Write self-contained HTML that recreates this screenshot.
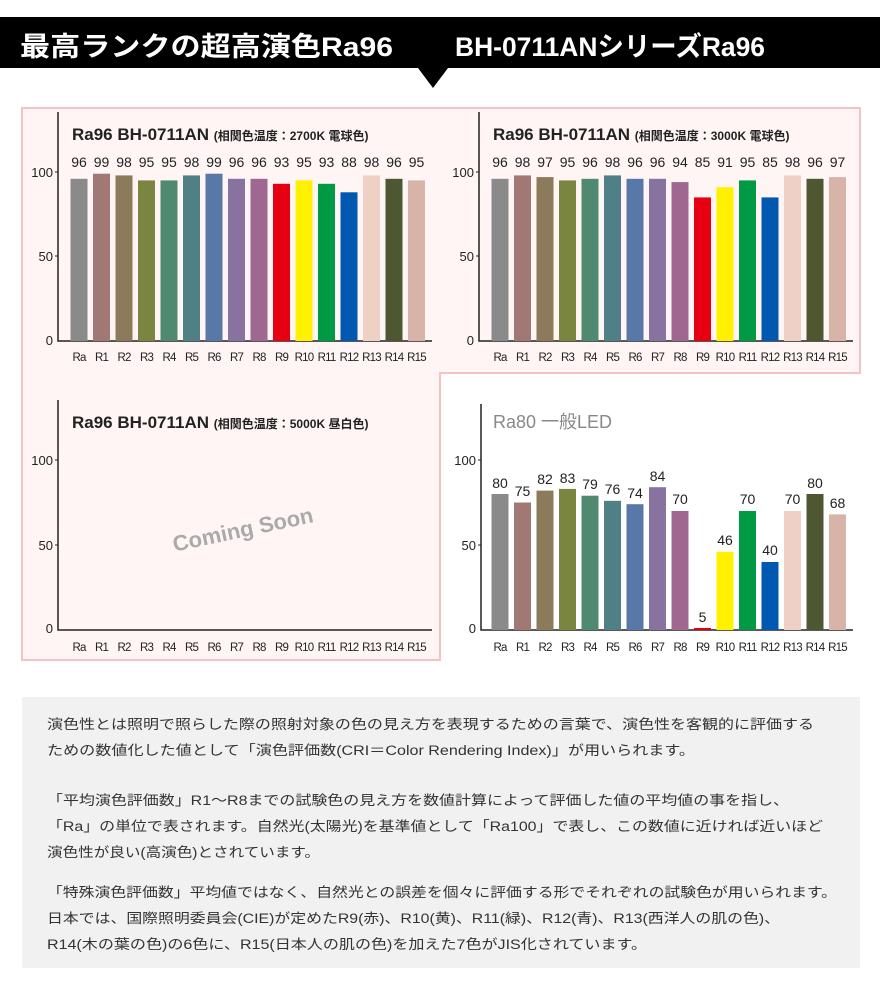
<!DOCTYPE html>
<html><head><meta charset="utf-8"><style>
body{margin:0;background:#fff;}
svg{display:block;font-family:"Liberation Sans","Noto Sans CJK JP",sans-serif;}
.c0{fill:#8a8a8a}.c1{fill:#a27875}.c2{fill:#8c7b5a}.c3{fill:#7a8540}.c4{fill:#4f8a70}.c5{fill:#4f8085}.c6{fill:#5878a8}.c7{fill:#8872a0}.c8{fill:#a06890}.c9{fill:#e60012}.c10{fill:#fff100}.c11{fill:#009944}.c12{fill:#0058b0}.c13{fill:#efd0c4}.c14{fill:#4e5632}.c15{fill:#d8b4a8}
.v{font-size:14px;fill:#222;text-anchor:middle}
.x{font-size:11.5px;fill:#222;text-anchor:middle;letter-spacing:-0.8px}
.t{font-size:13px;fill:#222;text-anchor:end}
.p{font-size:13.5px;fill:#333}
</style></head><body>
<svg width="880" height="1000" viewBox="0 0 880 1000">
<rect x="0" y="17" width="880" height="51" fill="#000"/>
<polygon points="418,68 448,68 433,88" fill="#000"/>
<text x="20" y="56" font-size="27" font-weight="bold" fill="#fff" textLength="373" lengthAdjust="spacingAndGlyphs">最高ランクの超高演色Ra96</text>
<text x="455" y="56" font-size="27" font-weight="bold" fill="#fff" textLength="310" lengthAdjust="spacingAndGlyphs">BH-0711ANシリーズRa96</text>

<path d="M22,108 H860 V373 H440 V660 H22 Z" fill="#fff5f5" stroke="#f4c4c4" stroke-width="2"/>

<!-- Chart 1 -->
<g>
<path d="M58,112 V341 H432" fill="none" stroke="#222" stroke-width="1.5"/>
<path d="M55,172 H58 M55,256 H58" stroke="#222"/>
<text class="t" x="53" y="177">100</text><text class="t" x="53" y="261">50</text><text class="t" x="53" y="345">0</text>
<text x="72" y="140" font-size="17" font-weight="bold" fill="#222">Ra96 BH-0711AN <tspan font-size="12">(相関色温度：2700K 電球色)</tspan></text>
<rect class="c0" x="70.5" y="178.8" width="17" height="162.2"/><rect class="c1" x="93" y="173.7" width="17" height="167.3"/><rect class="c2" x="115.5" y="175.4" width="17" height="165.6"/><rect class="c3" x="138" y="180.4" width="17" height="160.6"/><rect class="c4" x="160.5" y="180.4" width="17" height="160.6"/><rect class="c5" x="183" y="175.4" width="17" height="165.6"/><rect class="c6" x="205.5" y="173.7" width="17" height="167.3"/><rect class="c7" x="228" y="178.8" width="17" height="162.2"/><rect class="c8" x="250.5" y="178.8" width="17" height="162.2"/><rect class="c9" x="273" y="183.8" width="17" height="157.2"/><rect class="c10" x="295.5" y="180.4" width="17" height="160.6"/><rect class="c11" x="318" y="183.8" width="17" height="157.2"/><rect class="c12" x="340.5" y="192.3" width="17" height="148.7"/><rect class="c13" x="363" y="175.4" width="17" height="165.6"/><rect class="c14" x="385.5" y="178.8" width="17" height="162.2"/><rect class="c15" x="408" y="180.4" width="17" height="160.6"/>
<text class="v" y="167"><tspan x="79">96</tspan><tspan x="101.5">99</tspan><tspan x="124">98</tspan><tspan x="146.5">95</tspan><tspan x="169">95</tspan><tspan x="191.5">98</tspan><tspan x="214">99</tspan><tspan x="236.5">96</tspan><tspan x="259">96</tspan><tspan x="281.5">93</tspan><tspan x="304">95</tspan><tspan x="326.5">93</tspan><tspan x="349">88</tspan><tspan x="371.5">98</tspan><tspan x="394">96</tspan><tspan x="416.5">95</tspan></text>
<text class="x" y="361"><tspan x="79">Ra</tspan><tspan x="101.5">R1</tspan><tspan x="124">R2</tspan><tspan x="146.5">R3</tspan><tspan x="169">R4</tspan><tspan x="191.5">R5</tspan><tspan x="214">R6</tspan><tspan x="236.5">R7</tspan><tspan x="259">R8</tspan><tspan x="281.5">R9</tspan><tspan x="304">R10</tspan><tspan x="326.5">R11</tspan><tspan x="349">R12</tspan><tspan x="371.5">R13</tspan><tspan x="394">R14</tspan><tspan x="416.5">R15</tspan></text>
</g>

<!-- Chart 2 -->
<g transform="translate(421,0)">
<path d="M58,112 V341 H432" fill="none" stroke="#222" stroke-width="1.5"/>
<path d="M55,172 H58 M55,256 H58" stroke="#222"/>
<text class="t" x="53" y="177">100</text><text class="t" x="53" y="261">50</text><text class="t" x="53" y="345">0</text>
<text x="72" y="140" font-size="17" font-weight="bold" fill="#222">Ra96 BH-0711AN <tspan font-size="12">(相関色温度：3000K 電球色)</tspan></text>
<rect class="c0" x="70.5" y="178.8" width="17" height="162.2"/><rect class="c1" x="93" y="175.4" width="17" height="165.6"/><rect class="c2" x="115.5" y="177.1" width="17" height="163.9"/><rect class="c3" x="138" y="180.4" width="17" height="160.6"/><rect class="c4" x="160.5" y="178.8" width="17" height="162.2"/><rect class="c5" x="183" y="175.4" width="17" height="165.6"/><rect class="c6" x="205.5" y="178.8" width="17" height="162.2"/><rect class="c7" x="228" y="178.8" width="17" height="162.2"/><rect class="c8" x="250.5" y="182.1" width="17" height="158.9"/><rect class="c9" x="273" y="197.4" width="17" height="143.6"/><rect class="c10" x="295.5" y="187.2" width="17" height="153.8"/><rect class="c11" x="318" y="180.4" width="17" height="160.6"/><rect class="c12" x="340.5" y="197.4" width="17" height="143.6"/><rect class="c13" x="363" y="175.4" width="17" height="165.6"/><rect class="c14" x="385.5" y="178.8" width="17" height="162.2"/><rect class="c15" x="408" y="177.1" width="17" height="163.9"/>
<text class="v" y="167"><tspan x="79">96</tspan><tspan x="101.5">98</tspan><tspan x="124">97</tspan><tspan x="146.5">95</tspan><tspan x="169">96</tspan><tspan x="191.5">98</tspan><tspan x="214">96</tspan><tspan x="236.5">96</tspan><tspan x="259">94</tspan><tspan x="281.5">85</tspan><tspan x="304">91</tspan><tspan x="326.5">95</tspan><tspan x="349">85</tspan><tspan x="371.5">98</tspan><tspan x="394">96</tspan><tspan x="416.5">97</tspan></text>
<text class="x" y="361"><tspan x="79">Ra</tspan><tspan x="101.5">R1</tspan><tspan x="124">R2</tspan><tspan x="146.5">R3</tspan><tspan x="169">R4</tspan><tspan x="191.5">R5</tspan><tspan x="214">R6</tspan><tspan x="236.5">R7</tspan><tspan x="259">R8</tspan><tspan x="281.5">R9</tspan><tspan x="304">R10</tspan><tspan x="326.5">R11</tspan><tspan x="349">R12</tspan><tspan x="371.5">R13</tspan><tspan x="394">R14</tspan><tspan x="416.5">R15</tspan></text>
</g>

<!-- Chart 3 -->
<g>
<path d="M58,400 V630 H432" fill="none" stroke="#222" stroke-width="1.5"/>
<path d="M55,460 H58 M55,545 H58" stroke="#222"/>
<text class="t" x="53" y="465">100</text><text class="t" x="53" y="550">50</text><text class="t" x="53" y="633">0</text>
<text x="72" y="428" font-size="17" font-weight="bold" fill="#222">Ra96 BH-0711AN <tspan font-size="12">(相関色温度：5000K 昼白色)</tspan></text>
<text x="243" y="537" font-size="22" font-weight="bold" fill="#aaa" text-anchor="middle" transform="rotate(-12 243 530)">Coming Soon</text>
<text class="x" y="651"><tspan x="79">Ra</tspan><tspan x="101.5">R1</tspan><tspan x="124">R2</tspan><tspan x="146.5">R3</tspan><tspan x="169">R4</tspan><tspan x="191.5">R5</tspan><tspan x="214">R6</tspan><tspan x="236.5">R7</tspan><tspan x="259">R8</tspan><tspan x="281.5">R9</tspan><tspan x="304">R10</tspan><tspan x="326.5">R11</tspan><tspan x="349">R12</tspan><tspan x="371.5">R13</tspan><tspan x="394">R14</tspan><tspan x="416.5">R15</tspan></text>
</g>

<!-- Chart 4 -->
<g transform="translate(421,0)">
<path d="M60,404 V630 H432" fill="none" stroke="#222" stroke-width="1.5"/>
<path d="M57,460 H60 M57,545 H60" stroke="#222"/>
<text class="t" x="55" y="465">100</text><text class="t" x="55" y="550">50</text><text class="t" x="55" y="633">0</text>
<text x="72" y="428" font-size="18" fill="#888">Ra80 一般LED</text>
<rect class="c0" x="70.5" y="494" width="17" height="136"/><rect class="c1" x="93" y="502.5" width="17" height="127.5"/><rect class="c2" x="115.5" y="490.6" width="17" height="139.4"/><rect class="c3" x="138" y="488.9" width="17" height="141.1"/><rect class="c4" x="160.5" y="495.7" width="17" height="134.3"/><rect class="c5" x="183" y="500.8" width="17" height="129.2"/><rect class="c6" x="205.5" y="504.2" width="17" height="125.8"/><rect class="c7" x="228" y="487.2" width="17" height="142.8"/><rect class="c8" x="250.5" y="511" width="17" height="119"/><rect class="c9" x="273" y="628" width="17" height="2"/><rect class="c10" x="295.5" y="551.8" width="17" height="78.2"/><rect class="c11" x="318" y="511" width="17" height="119"/><rect class="c12" x="340.5" y="562" width="17" height="68"/><rect class="c13" x="363" y="511" width="17" height="119"/><rect class="c14" x="385.5" y="494" width="17" height="136"/><rect class="c15" x="408" y="514.4" width="17" height="115.6"/>
<g class="v"><text x="79" y="488">80</text><text x="101.5" y="496">75</text><text x="124" y="484">82</text><text x="146.5" y="483">83</text><text x="169" y="489">79</text><text x="191.5" y="494">76</text><text x="214" y="498">74</text><text x="236.5" y="481">84</text><text x="259" y="504">70</text><text x="281.5" y="622">5</text><text x="304" y="545">46</text><text x="326.5" y="504">70</text><text x="349" y="555">40</text><text x="371.5" y="504">70</text><text x="394" y="488">80</text><text x="416.5" y="508">68</text></g>
<text class="x" y="651"><tspan x="79">Ra</tspan><tspan x="101.5">R1</tspan><tspan x="124">R2</tspan><tspan x="146.5">R3</tspan><tspan x="169">R4</tspan><tspan x="191.5">R5</tspan><tspan x="214">R6</tspan><tspan x="236.5">R7</tspan><tspan x="259">R8</tspan><tspan x="281.5">R9</tspan><tspan x="304">R10</tspan><tspan x="326.5">R11</tspan><tspan x="349">R12</tspan><tspan x="371.5">R13</tspan><tspan x="394">R14</tspan><tspan x="416.5">R15</tspan></text>
</g>

<!-- Text box -->
<rect x="22" y="697" width="838" height="271" fill="#f1f1f1"/>
<g class="p">
<text x="47" y="729" textLength="767" lengthAdjust="spacingAndGlyphs">演色性とは照明で照らした際の照射対象の色の見え方を表現するための言葉で、演色性を客観的に評価する</text>
<text x="47" y="755" textLength="648" lengthAdjust="spacingAndGlyphs">ための数値化した値として「演色評価数(CRI＝Color Rendering Index)」が用いられます。</text>
<text x="47" y="805" textLength="742" lengthAdjust="spacingAndGlyphs">「平均演色評価数」R1～R8までの試験色の見え方を数値計算によって評価した値の平均値の事を指し、</text>
<text x="47" y="831" textLength="776" lengthAdjust="spacingAndGlyphs">「Ra」の単位で表されます。自然光(太陽光)を基準値として「Ra100」で表し、この数値に近ければ近いほど</text>
<text x="47" y="857" textLength="273" lengthAdjust="spacingAndGlyphs">演色性が良い(高演色)とされています。</text>
<text x="47" y="897" textLength="790" lengthAdjust="spacingAndGlyphs">「特殊演色評価数」平均値ではなく、自然光との誤差を個々に評価する形でそれぞれの試験色が用いられます。</text>
<text x="47" y="923" textLength="733" lengthAdjust="spacingAndGlyphs">日本では、国際照明委員会(CIE)が定めたR9(赤)、R10(黄)、R11(緑)、R12(青)、R13(西洋人の肌の色)、</text>
<text x="47" y="949" textLength="600" lengthAdjust="spacingAndGlyphs">R14(木の葉の色)の6色に、R15(日本人の肌の色)を加えた7色がJIS化されています。</text>
</g>
</svg>
</body></html>
